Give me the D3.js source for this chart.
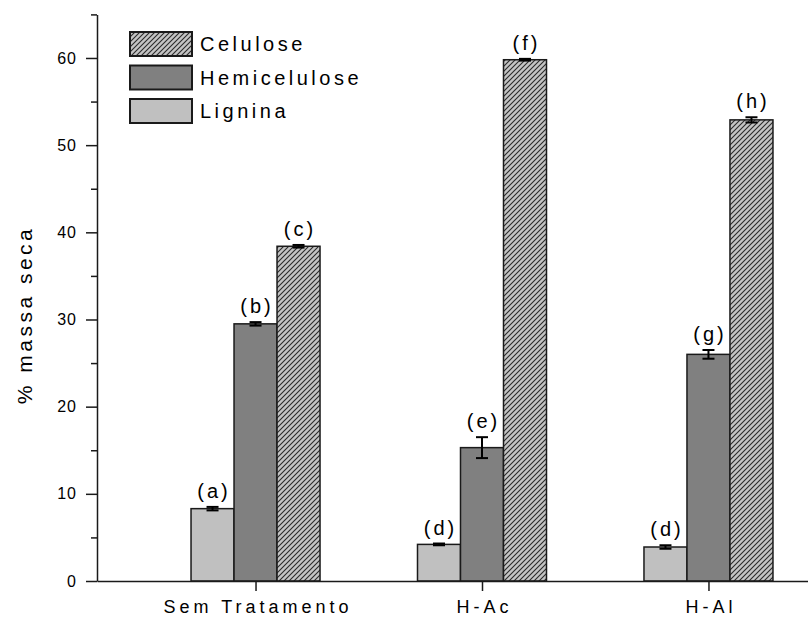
<!DOCTYPE html>
<html>
<head>
<meta charset="utf-8">
<script src="https://cdn.jsdelivr.net/npm/d3@7"></script>
<style>
  html, body { margin: 0; padding: 0; background: #fff; }
  svg { display: block; font-family: Arial, "Liberation Sans", sans-serif; }
</style>
</head>
<body>
<svg id="chart" width="808" height="618"></svg>
<script>
// Composition of dry mass by treatment
const categories = ["Sem Tratamento", "H-Ac", "H-Al"];
const series = ["Lignina", "Hemicelulose", "Celulose"];

const lignina = [8.3, 4.2, 3.9];
const ligninaErr = [0.2, 0.1, 0.2];
const hemicelulose = [29.5, 15.3, 26.0];
const hemiceluloseErr = [0.2, 1.2, 0.5];
const celulose = [38.4, 59.8, 52.9];
const celuloseErr = [0.15, 0.1, 0.3];

const ligninaLetters = ["(a)", "(d)", "(d)"];
const hemiceluloseLetters = ["(b)", "(e)", "(g)"];
const celuloseLetters = ["(c)", "(f)", "(h)"];

const yMajorTicks = [0, 10, 20, 30, 40, 50, 60];
const yMinorTicks = [5, 15, 25, 35, 45, 55, 65];
const yLabel = "% massa seca";
const legendOrder = ["Celulose", "Hemicelulose", "Lignina"];

const seriesValues = {
  Lignina: { v: lignina, e: ligninaErr, t: ligninaLetters },
  Hemicelulose: { v: hemicelulose, e: hemiceluloseErr, t: hemiceluloseLetters },
  Celulose: { v: celulose, e: celuloseErr, t: celuloseLetters }
};

const svg = d3.select("#chart");
const ink = "#1a1a1a";

// hatch pattern for the cellulose bars
const defs = svg.append("defs");
const pat = defs.append("pattern")
  .attr("id", "hatch")
  .attr("patternUnits", "userSpaceOnUse")
  .attr("width", 5).attr("height", 5);
pat.append("rect").attr("width", 5).attr("height", 5).attr("fill", "#c4c4c4");
pat.append("path")
  .attr("d", "M0,5 L5,0 M-1,1 L1,-1 M4,6 L6,4")
  .attr("stroke", "#2a2a2a").attr("stroke-width", 1.1);

const fills = { Lignina: "#c0c0c0", Hemicelulose: "#808080", Celulose: "url(#hatch)" };

const axisX0 = 97, baseY = 581;
const y = d3.scaleLinear().domain([0, 65]).range([baseY, 14.4]);
const x = d3.scalePoint().domain(categories).range([axisX0, 867]).padding(0.7);
const inner = d3.scaleBand().domain(series).range([-64.5, 64.5]);

// one record per bar
const barData = [];
categories.forEach((c, i) => {
  series.forEach(s => {
    barData.push({ cat: c, s, v: seriesValues[s].v[i], e: seriesValues[s].e[i], t: seriesValues[s].t[i] });
  });
});
const cx = d => x(d.cat) + inner(d.s) + inner.bandwidth() / 2;

const g = svg.append("g");
g.selectAll("rect.bar").data(barData).join("rect")
  .attr("class", "bar")
  .attr("x", d => x(d.cat) + inner(d.s))
  .attr("y", d => y(d.v))
  .attr("width", inner.bandwidth())
  .attr("height", d => y(0) - y(d.v))
  .attr("fill", d => fills[d.s])
  .attr("stroke", ink)
  .attr("stroke-width", 1.5);

// error bars
const capHalf = 6;
const eb = g.selectAll("g.err").data(barData).join("g").attr("class", "err")
  .attr("stroke", "#000").attr("stroke-width", 2);
eb.append("line")
  .attr("x1", cx).attr("x2", cx)
  .attr("y1", d => y(d.v + d.e)).attr("y2", d => y(d.v - d.e));
eb.append("line")
  .attr("x1", d => cx(d) - capHalf).attr("x2", d => cx(d) + capHalf)
  .attr("y1", d => y(d.v + d.e)).attr("y2", d => y(d.v + d.e));
eb.append("line")
  .attr("x1", d => cx(d) - capHalf).attr("x2", d => cx(d) + capHalf)
  .attr("y1", d => y(d.v - d.e)).attr("y2", d => y(d.v - d.e));

// significance letters
g.selectAll("text.letter").data(barData).join("text")
  .attr("class", "letter")
  .attr("x", d => cx(d) + 1.5)
  .attr("y", d => y(d.v + d.e) - 9)
  .attr("text-anchor", "middle")
  .attr("font-size", 20)
  .attr("letter-spacing", 3)
  .attr("fill", "#000")
  .text(d => d.t);

// x axis
const xAxis = svg.append("g")
  .attr("transform", `translate(0,${baseY})`)
  .call(d3.axisBottom(x).tickSize(10).tickSizeOuter(0).tickPadding(9));
xAxis.select(".domain").attr("stroke", ink).attr("stroke-width", 1.5);
xAxis.selectAll(".tick line").attr("stroke", ink).attr("stroke-width", 1.5);
xAxis.selectAll(".tick text")
  .attr("font-size", 18).attr("letter-spacing", 4).attr("dx", 2).attr("fill", "#000");

// y axis: labelled major ticks and shorter minor ticks
const yAxis = svg.append("g")
  .attr("transform", `translate(${axisX0},0)`)
  .call(d3.axisLeft(y).tickValues(yMajorTicks).tickSize(11).tickSizeOuter(0).tickPadding(9));
yAxis.select(".domain").attr("stroke", ink).attr("stroke-width", 1.5);
yAxis.selectAll(".tick line").attr("stroke", ink).attr("stroke-width", 1.5);
yAxis.selectAll(".tick text").attr("font-size", 16).attr("letter-spacing", 1).attr("fill", "#000");

const yMinor = svg.append("g")
  .attr("transform", `translate(${axisX0},0)`)
  .call(d3.axisLeft(y).tickValues(yMinorTicks).tickSize(6).tickFormat(""));
yMinor.select(".domain").remove();
yMinor.selectAll(".tick line").attr("stroke", ink).attr("stroke-width", 1.5);

// y axis title
svg.append("text")
  .attr("transform", "translate(32,315) rotate(-90)")
  .attr("text-anchor", "middle")
  .attr("font-size", 21)
  .attr("letter-spacing", 3.5)
  .attr("fill", "#000")
  .text(yLabel);

// legend
const legend = svg.append("g").attr("transform", "translate(130,32)");
const li = legend.selectAll("g").data(legendOrder).join("g")
  .attr("transform", (d, i) => `translate(0,${i * 33.5})`);
li.append("rect")
  .attr("width", 62).attr("height", 24)
  .attr("fill", d => fills[d])
  .attr("stroke", ink).attr("stroke-width", 2);
li.append("text")
  .attr("x", 70).attr("y", 12)
  .attr("dy", "0.36em")
  .attr("font-size", 20)
  .attr("letter-spacing", 3.5)
  .attr("fill", "#000")
  .text(d => d);
</script>
</body>
</html>
